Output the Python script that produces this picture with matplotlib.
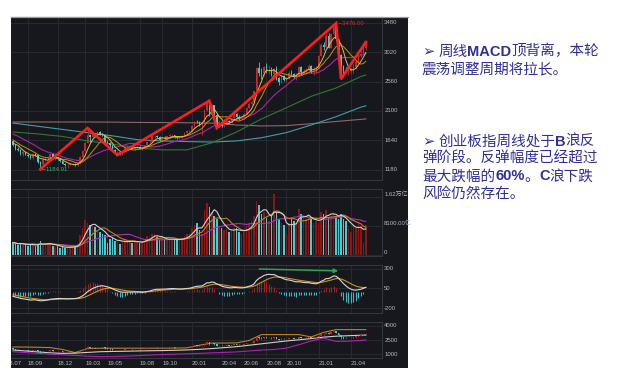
import numpy as np
import pandas as pd
import matplotlib
matplotlib.use('Agg')
import matplotlib.pyplot as plt
from matplotlib.patches import Rectangle
from matplotlib.lines import Line2D
from matplotlib.transforms import blended_transform_factory, Bbox, TransformedBbox

W, H = 623, 386

# ---- weekly data, ChiNext index ----
first_week, last_week = '2018-07-27', '2021-05-14'
holiday_weeks = ['2018-10-05', '2019-02-08', '2019-10-04', '2020-01-31']

# closes before the visible range, only used to warm up MA / MACD
pre_closes = [1780, 1700, 1590, 1650, 1720, 1760, 1810, 1860, 1800, 1850,
              1860, 1830, 1830, 1790, 1820, 1840, 1800, 1790, 1720, 1700,
              1670, 1600, 1620, 1560, 1620, 1630]

closes = [1565, 1500, 1490, 1425, 1450, 1415, 1395, 1360, 1420, 1410,
          1300, 1275, 1330, 1365, 1370, 1420, 1355, 1355, 1345, 1315,
          1275, 1250, 1255, 1262, 1268, 1250, 1278, 1385, 1475, 1600,
          1720, 1690, 1750, 1715, 1765, 1730, 1720, 1615, 1600, 1560,
          1480, 1440, 1450, 1425, 1460, 1525, 1530, 1535, 1510, 1525,
          1540, 1510, 1510, 1560, 1610, 1620, 1700, 1700, 1690, 1640,
          1675, 1665, 1700, 1720, 1720, 1690, 1670, 1690, 1715, 1760,
          1780, 1785, 1860, 1925, 1920, 1900, 1900, 2120, 2245, 2040,
          2190, 2040, 1850, 1920, 1865, 1900, 1935, 1920, 1985, 2045,
          2005, 1990, 2010, 2055, 2150, 2215, 2235, 2410, 2780, 2700,
          2690, 2790, 2745, 2750, 2680, 2765, 2610, 2550, 2650, 2585,
          2610, 2700, 2680, 2630, 2655, 2785, 2715, 2730, 2745, 2805,
          2715, 2760, 2780, 2965, 3140, 3110, 3280, 3090, 3305, 3420,
          3225, 2980, 2800, 2735, 2720, 2720, 2760, 2790, 2870, 2970,
          3000, 3080, 3150]

highs = [1640, 1580, 1530, 1500, 1470, 1460, 1430, 1410, 1430, 1440,
         1415, 1310, 1360, 1380, 1400, 1435, 1425, 1375, 1380, 1355,
         1320, 1285, 1265, 1280, 1290, 1280, 1290, 1390, 1490, 1620,
         1830, 1740, 1770, 1760, 1790, 1790, 1760, 1730, 1640, 1610,
         1570, 1500, 1470, 1460, 1470, 1535, 1560, 1560, 1545, 1535,
         1560, 1550, 1530, 1570, 1620, 1650, 1710, 1725, 1720, 1700,
         1690, 1700, 1710, 1735, 1745, 1725, 1700, 1700, 1725, 1770,
         1800, 1800, 1870, 1940, 1960, 1935, 1920, 2130, 2250, 2260,
         2215, 2195, 2060, 1960, 1935, 1925, 1960, 1955, 1995, 2060,
         2075, 2040, 2025, 2070, 2165, 2225, 2260, 2415, 2790, 2870,
         2770, 2810, 2860, 2800, 2790, 2770, 2800, 2640, 2665, 2660,
         2630, 2720, 2740, 2700, 2690, 2810, 2810, 2760, 2780, 2830,
         2815, 2790, 2800, 2975, 3160, 3180, 3300, 3320, 3320, 3440,
         3476, 3230, 3000, 2820, 2790, 2760, 2780, 2830, 2900, 2990,
         3060, 3120, 3190]

lows = [1550, 1490, 1470, 1410, 1400, 1405, 1380, 1350, 1340, 1395,
        1290, 1184.91, 1260, 1320, 1350, 1360, 1345, 1330, 1335, 1305,
        1265, 1235, 1205, 1245, 1250, 1235, 1240, 1275, 1380, 1470,
        1600, 1620, 1670, 1690, 1710, 1720, 1700, 1605, 1590, 1480,
        1470, 1430, 1405, 1410, 1415, 1455, 1510, 1520, 1500, 1495,
        1515, 1500, 1480, 1500, 1545, 1600, 1615, 1680, 1670, 1630,
        1620, 1655, 1650, 1690, 1705, 1680, 1660, 1655, 1680, 1705,
        1750, 1765, 1780, 1850, 1905, 1860, 1720, 1895, 2100, 2020,
        2035, 1960, 1830, 1835, 1850, 1855, 1890, 1905, 1910, 1975,
        1995, 1965, 1970, 2000, 2050, 2140, 2200, 2230, 2405, 2650,
        2600, 2650, 2700, 2680, 2650, 2600, 2590, 2510, 2540, 2570,
        2560, 2600, 2660, 2610, 2580, 2650, 2660, 2690, 2700, 2730,
        2690, 2670, 2700, 2775, 2960, 3050, 3090, 3080, 3085, 3290,
        3190, 2950, 2600, 2640, 2690, 2660, 2690, 2700, 2760, 2860,
        2950, 2980, 3050]

# weekly turnover, 亿
volume = [3500, 3200, 2800, 3400, 3000, 2700, 2600, 3000, 3300,
          2500, 3000, 3800, 2800, 3300, 2900, 3400, 2600, 2300, 2400, 2100,
          2200, 2000, 2100, 2300, 2400, 2500, 3000,
          5500, 7500, 9700, 9000, 8500, 8000, 7800, 7000, 6500, 6000, 5500,
          3500, 4500, 4800, 4000, 3800, 3200, 3700, 4200, 3800, 4000,
          3500, 3600, 3900, 3500, 3400, 4500, 5200, 5000, 6000, 5800,
          5000, 4300, 4600, 4500, 4200, 4400, 4600, 4300, 4100, 4300,
          4700, 5200, 5800, 6000,
          7500, 8500, 9000, 7000, 6000, 12500, 14500, 13500, 12000, 11000,
          10000, 8000,
          7500, 7000, 7200, 6500, 6800, 7500, 7600, 6500, 6000, 6500,
          8000, 9000, 9500, 11000,
          15000, 14000, 11500, 12000, 10500, 9500, 11000, 17000, 12000,
          10000, 9000, 8500, 6000,
          9000, 10000, 9500, 9000, 13000, 11500, 10500, 10000, 11000, 10000,
          9000, 9500,
          9000, 12000, 11500, 12500, 10500, 11000, 12000, 11000, 10000, 11500,
          10000, 9500, 7500, 6500, 8000, 7500, 9000, 8000, 3500, 8500]

# long moving averages, sampled every 10 weeks (+ last week)
ma60_w = [1770, 1740, 1700, 1630, 1580, 1520, 1490, 1490, 1600, 1770,
          1975, 2150, 2330, 2460, 2640, 2665]
ma120_w = [1910, 1860, 1810, 1760, 1710, 1650, 1630, 1620, 1612, 1630,
           1680, 1760, 1880, 2010, 2160, 2180]
ma250_w = [1927, 1927, 1927, 1927, 1925, 1920, 1918, 1915, 1910, 1880,
           1865, 1870, 1900, 1935, 1968, 1975]

# bottom indicator lines, sampled every 5 weeks (+ last week)
band_upper = [1770, 1760, 1740, 1700, 1500, 1180, 1600, 1640, 1640, 1640,
              1640, 1640, 1640, 1650, 1680, 1950, 2180, 2180, 2200, 2450,
              3070, 3070, 3070, 3070, 2820, 3300, 3590, 3590, 3590, 3590]
band_mid = [1450, 1350, 1250, 1150, 1100, 1120, 1200, 1270, 1300, 1320,
            1350, 1370, 1390, 1420, 1460, 1520, 1600, 1700, 1800, 1950,
            2100, 2250, 2400, 2520, 2650, 2800, 2900, 2950, 3000, 3020]
band_low = [1270, 1180, 1100, 1020, 950, 880, 800, 760, 760, 800,
            850, 920, 980, 1020, 1050, 1100, 1150, 1200, 1250, 1350,
            1450, 1500, 1650, 2000, 2400, 2700, 2350, 2380, 2450, 2500]

zigzag_dates = ['2018-10-19', '2019-03-08', '2019-05-31', '2020-02-28',
                '2020-03-20', '2021-02-19', '2021-03-05', '2021-05-14']
zigzag_prices = [1185, 1832, 1408, 2260, 1832, 3476, 2601, 3182]

divergence_dates = ['2020-07-10', '2021-03-05']
divergence_dif = [300, 275]

month_ticks = ['2018-07', '2018-09', '2018-12', '2019-03', '2019-05', '2019-08',
               '2019-10', '2020-01', '2020-04', '2020-06', '2020-08', '2020-10',
               '2021-01', '2021-04']
price_ticks = [3480, 3020, 2560, 2100, 1640, 1180]
vol_ticks = [16200, 8100, 0]
vol_labels = ['1.62万亿', '8100.00亿', '0']
macd_ticks = [300, 50, -200]
band_ticks = [4000, 2500, 1000]

note1 = [[('➢', 'arrow'), ('周线', 'cjk'), ('MACD', 'bold'), ('顶背离，本轮', 'cjk')],
         [('震荡调整周期将拉长。', 'cjk')]]
note2 = [[('➢', 'arrow'), ('创业板指周线处于', 'cjk'), ('B', 'bold'), ('浪反', 'cjk')],
         [('弹阶段。反弹幅度已经超过', 'cjk')],
         [('最大跌幅的', 'cjk'), ('60%', 'bold'), ('。', 'cjk'), ('C', 'bold'), ('浪下跌', 'cjk')],
         [('风险仍然存在。', 'cjk')]]

# ---- derived series ----
weeks = pd.date_range(first_week, last_week, freq='W-FRI')
weeks = weeks[~weeks.isin(pd.to_datetime(holiday_weeks))]
n = len(weeks)
x = np.arange(n)
c = np.array(closes, float)
o = np.concatenate([[pre_closes[-1]], c[:-1]])
hi = np.maximum(np.array(highs, float), np.maximum(o, c))
lo = np.minimum(np.array(lows, float), np.minimum(o, c))
up = c >= o

allc = pd.Series(pre_closes + closes, dtype=float)
ma5 = allc.rolling(5).mean().to_numpy()[-n:]
ma10 = allc.rolling(10).mean().to_numpy()[-n:]
ma20 = allc.rolling(20).mean().to_numpy()[-n:]
dif_s = allc.ewm(span=12, adjust=False).mean() - allc.ewm(span=26, adjust=False).mean()
dea_s = dif_s.ewm(span=9, adjust=False).mean()
dif = dif_s.to_numpy()[-n:]
dea = dea_s.to_numpy()[-n:]
hist = 2 * (dif - dea)

vol = pd.Series(volume, dtype=float)
vma5 = vol.rolling(5, min_periods=1).mean()
vma10 = vol.rolling(10, min_periods=1).mean()
vma20 = vol.rolling(20, min_periods=1).mean()

x10 = list(range(0, n, 10)) + [n - 1]
x5 = list(range(0, n, 5)) + [n - 1]


def week_pos(d):
    return int(np.argmin(np.abs((weeks - pd.Timestamp(d)).days)))


ym = weeks.strftime('%Y-%m')
tick_pos = [int(np.argmax(ym == m)) for m in month_ticks]
tick_lab = [m[2:4] + '.' + m[5:7] for m in month_ticks]

# ---- style ----
BG = '#16181d'
GRID = '#272a30'
EDGE = '#33363d'
TXT = '#b8b8b8'
UP = '#c8282a'
DOWN = '#4cc9cc'
VUP = '#8a1616'
SMALL = ['Liberation Sans', 'Noto Sans CJK SC']
NAVY = '#2f2f96'

fig = plt.figure(figsize=(W / 100, H / 100), dpi=100)
fig.patch.set_facecolor('white')
fig.add_artist(Rectangle((11 / W, 1 - 368 / H), 397 / W, 351 / H,
                         transform=fig.transFigure, facecolor=BG,
                         edgecolor='none', zorder=0))
fig.add_artist(Line2D([11 / W, 408 / W], [1 - 17 / H, 1 - 17 / H],
                      transform=fig.transFigure, color='#9a9a9a', lw=0.9))


def panel(top, bottom, ylim):
    ax = fig.add_axes([11 / W, 1 - bottom / H, 371 / W, (bottom - top) / H])
    ax.set_facecolor(BG)
    ax.set_xlim(-0.8, 148.5)
    ax.set_ylim(*ylim)
    ax.set_xticks([])
    ax.set_yticks([])
    ax.spines['left'].set_visible(False)
    for s in ('top', 'bottom', 'right'):
        ax.spines[s].set_color(EDGE)
        ax.spines[s].set_linewidth(0.8)
    for p in tick_pos[1:]:
        ax.axvline(p, color=GRID, lw=0.7, zorder=0)
    return ax


def ylabels(ax, vals, labels, va='center'):
    tr = blended_transform_factory(ax.transAxes, ax.transData)
    for v, lab in zip(vals, labels):
        ax.axhline(v, color=GRID, lw=0.7, zorder=0)
        ax.text(1.006, v, lab, transform=tr, ha='left', va=va, fontsize=4.3,
                color=TXT, family=SMALL, clip_on=False)


def candles(ax, width, lw):
    col = np.where(up, UP, DOWN)
    ax.vlines(x, lo, hi, colors=col, lw=lw, zorder=3)
    body = np.maximum(np.abs(c - o), 4)
    ax.bar(x, body, bottom=np.minimum(o, c), width=width, color=col,
           lw=0, zorder=3)


# main price panel
ax1 = panel(17, 180, (1017, 3574))
ylabels(ax1, price_ticks, [str(v) for v in price_ticks])
ax1.plot(x10, ma250_w, color='#8f6767', lw=0.8, zorder=2)
ax1.plot(x10, ma120_w, color='#3f9ea8', lw=0.8, zorder=2)
ax1.plot(x10, ma60_w, color='#2f7a2f', lw=0.8, zorder=2)
ax1.plot(x, ma20, color='#b020b0', lw=0.8, zorder=2)
candles(ax1, 0.62, 0.6)
ax1.plot(x, ma10, color='#c88a10', lw=0.7, zorder=4)
ax1.plot(x, ma5, color='#d8c040', lw=0.7, zorder=4)
ax1.plot([week_pos(d) for d in zigzag_dates], zigzag_prices,
         color='#ff1e1e', lw=1.9, zorder=5, solid_joinstyle='miter')
i_lo = int(np.argmin(lo))
i_hi = int(np.argmax(hi))
ax1.text(i_lo + 0.3, lo[i_lo], '←' + f'{lo[i_lo]:.2f}', fontsize=4.3,
         color='#3ea874', va='center', ha='left', family=SMALL)
ax1.text(i_hi + 0.3, hi[i_hi], '←' + f'{hi[i_hi]:.2f}', fontsize=4.3,
         color='#d03030', va='center', ha='left', family=SMALL)

# volume panel
ax2 = panel(189, 256, (-280, 18500))
ylabels(ax2, vol_ticks, vol_labels, va='bottom')
ax2.bar(x, vol, width=0.62, color=np.where(up, VUP, DOWN), lw=0, zorder=2)
ax2.plot(x, vma20, color='#b030b0', lw=0.8, zorder=3)
ax2.plot(x, vma10, color='#c08020', lw=0.8, zorder=3)
ax2.plot(x, vma5, color='#d0d0d0', lw=0.8, zorder=3)

# MACD panel
ax3 = panel(265, 313, (-264, 351))
ylabels(ax3, macd_ticks, [str(v) for v in macd_ticks])
ax3.vlines(x, 0, hist, colors=np.where(hist >= 0, '#a02020', '#40b8c0'),
           lw=0.8, zorder=2)
ax3.plot(x, dea, color='#d09020', lw=0.8, zorder=3)
ax3.plot(x, dif, color='#d8d8d8', lw=0.8, zorder=3)
ax3.annotate('', xy=(week_pos(divergence_dates[1]), divergence_dif[1]),
             xytext=(week_pos(divergence_dates[0]), divergence_dif[0]),
             arrowprops=dict(arrowstyle='-|>', color='#2ca64c', lw=1.1,
                             mutation_scale=6), zorder=6)

# bottom indicator panel
ax4 = panel(322, 358, (612, 4388))
ylabels(ax4, band_ticks, [str(v) for v in band_ticks])
ax4.plot(x5, band_upper, color='#c08020', lw=0.8, zorder=2)
ax4.plot(x5, band_mid, color='#d0d0d0', lw=0.8, zorder=2)
ax4.plot(x5, band_low, color='#b020b0', lw=0.8, zorder=2)
candles(ax4, 0.62, 0.5)

# date labels under the last panel
clip = TransformedBbox(Bbox.from_extents(11 / W, 0, 408 / W, 1), fig.transFigure)
trd = blended_transform_factory(ax4.transData, ax4.transAxes)
for i, (p, lab) in enumerate(zip(tick_pos, tick_lab)):
    t = ax4.text(p - (2.4 if i == 0 else 0), -0.14, lab, transform=trd,
                 ha='left', va='center', fontsize=4.3, color=TXT,
                 family=SMALL, clip_on=False)
    t.set_clip_box(clip)
    t.set_clip_on(True)

# notes on the right
renderer = fig.canvas.get_renderer()


def write_line(runs, y_center):
    xp = 422
    yb = 1 - (y_center + 5.5) / H
    for s, kind in runs:
        if kind == 'arrow':
            t = fig.text(xp / W, yb + 0.5 / H, s, fontsize=10.5, color=NAVY,
                         family='DejaVu Sans', va='baseline')
            xp += t.get_window_extent(renderer).width + 4
            continue
        if kind == 'bold':
            kw = dict(family='Liberation Sans', weight='bold')
        else:
            kw = dict(family=['Noto Sans CJK SC', 'DejaVu Sans'])
        t = fig.text(xp / W, yb, s, fontsize=10.5, color=NAVY,
                     va='baseline', **kw)
        xp += t.get_window_extent(renderer).width


for runs, yc in zip(note1, [50, 68]):
    write_line(runs, yc)
for runs, yc in zip(note2, [140, 157, 175, 193]):
    write_line(runs, yc)

fig.savefig('out.png', dpi=100, facecolor='white')
